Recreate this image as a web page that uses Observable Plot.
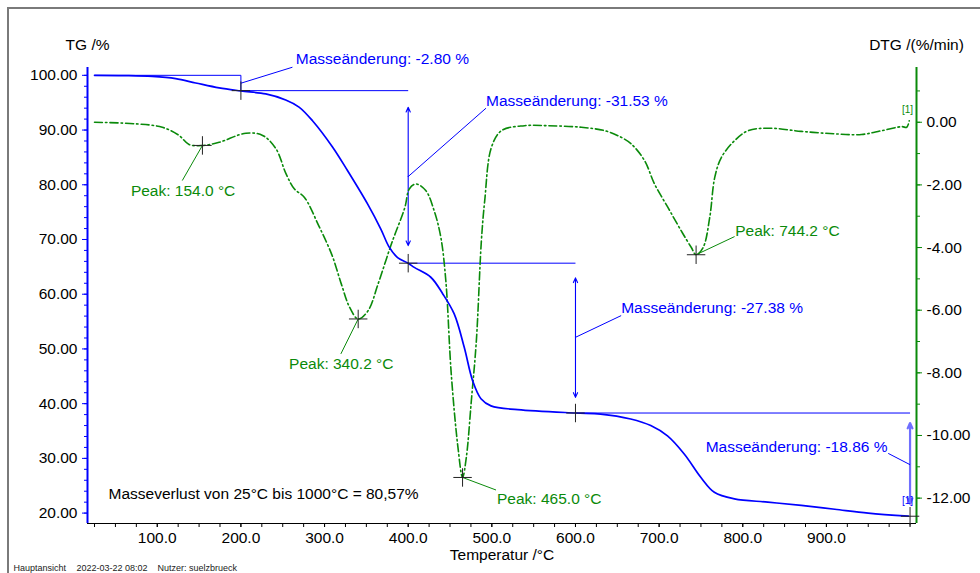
<!DOCTYPE html>
<html><head><meta charset="utf-8">
<script src="https://cdn.jsdelivr.net/npm/d3@7"></script>
<script src="https://cdn.jsdelivr.net/npm/@observablehq/plot@0.6"></script>
<style>
html,body{margin:0;padding:0;background:#fff;overflow:hidden;}
#wrap{position:relative;width:980px;height:573px;overflow:hidden;}
#border{position:absolute;left:7px;top:7px;width:1000px;height:600px;border:2px solid #7a7a7a;box-sizing:border-box;pointer-events:none;}
</style></head><body><div id="wrap"><div id="chart"></div><div id="border"></div></div>
<script>
// ---- TG curve (Temperatur °C, Masse %) ----
const tempTG = [25, 60, 94, 122, 146, 174, 200, 229.7, 253.6, 269.5, 285.6, 309.5, 327.4, 351.4, 367.3, 377.3, 387.3, 400, 407.3, 427, 441.2, 455, 467, 477, 487, 499, 531, 600, 630, 666, 690, 710, 730, 750, 766, 790, 830, 870, 910, 950, 998];
const massTG = [100, 99.95, 99.8, 99.4, 98.6, 97.7, 97.15, 96.6, 95.5, 94.2, 91.7, 86.9, 82.6, 76.5, 71.9, 68.6, 66.7, 65.67, 64.9, 63.1, 60.1, 56.4, 50.3, 44.2, 40.9, 39.6, 38.9, 38.29, 38.1, 37.2, 36.0, 34.1, 30.8, 26.5, 23.8, 22.6, 22.0, 21.4, 20.7, 20.0, 19.43];

// ---- DTG curve (Temperatur °C, %/min) ----
const tempDTG = [25, 74, 106, 126, 138, 154, 174, 206, 226, 242, 254, 264, 276, 293, 309, 320, 330, 340.2, 352, 364, 380, 396, 401.3, 409.3, 421, 431, 439, 445, 451.5, 459.5, 465, 469.5, 475.5, 481.5, 487.5, 491.5, 499.5, 511.5, 539, 567, 607, 635, 654.6, 666.6, 682.5, 694.5, 710.5, 726.5, 738.5, 744.2, 752.6, 760.5, 766.5, 774.5, 790.5, 806.5, 830.5, 870, 910, 942, 966, 990, 996, 999];
const rateDTG = [0, -0.05, -0.16, -0.42, -0.71, -0.74, -0.64, -0.35, -0.42, -0.85, -1.65, -2.13, -2.40, -3.3, -4.25, -5.16, -5.91, -6.28, -6.02, -5.16, -3.88, -2.72, -2.13, -1.97, -2.18, -2.82, -3.67, -5.06, -8.04, -10.38, -11.34, -10.70, -8.89, -6.97, -3.78, -2.50, -0.80, -0.27, -0.11, -0.11, -0.16, -0.27, -0.48, -0.69, -1.22, -1.97, -2.72, -3.47, -4.0, -4.23, -4.0, -3.04, -1.76, -1.12, -0.58, -0.27, -0.19, -0.29, -0.37, -0.39, -0.27, -0.14, -0.16, 0.05];

// ---- ticks ----
const xTicks = [100, 200, 300, 400, 500, 600, 700, 800, 900];
const xMinor = d3.range(25, 1001, 25);
const tgTicks = [20, 30, 40, 50, 60, 70, 80, 90, 100];
const tgMinor = d3.range(20, 101, 2);
const dtgTicks = [-12, -10, -8, -6, -4, -2, 0];
const dtgMinor = d3.range(-12, 2, 1);

// ---- mass steps ----
const stepTemps = [200, 400, 600, 1000];
const stepMass = [97.2, 65.67, 38.29, 19.43];
const stepLabels = ["Masseänderung: -2.80 %", "Masseänderung: -31.53 %", "Masseänderung: -27.38 %", "Masseänderung: -18.86 %"];
const stepArrowTop = [null, 94.17, 62.98, 36.47];
const stepArrowBottom = [null, 68.88, 41.15, 21.72];
const stepLeaderFrom = [98.56, 81.5, 52.12, 28.85];
const stepLeaderTo = [[261.6, 101.48], [493, 93.99], [654.6, 56.09], [973.9, 30.91]];
const stepLabelPos = [[265.6, 102.89, "start"], [493, 95.39, "start"], [654.6, 57.55, "start"], [973, 32.14, "end"]];

// ---- DTG peaks ----
const peakTemps = [154.0, 340.2, 465.0, 744.2];
const peakRates = [-0.74, -6.28, -11.34, -4.23];
const peakLeaderTo = [[129.9, 80.77], [319.5, 49.09], [505, 24.22], [790.2, 70.53]];
const peakLabelPos = [[130.9, 78.94, "middle"], [320, 47.31, "middle"], [506.2, 22.63, "start"], [791, 71.63, "start"]];

const note = "Masseverlust von 25°C bis 1000°C = 80,57%";
const notePos = [41.7, 23.55];
const footer = ["Hauptansicht", "2022-03-22 08:02", "Nutzer: suelzbrueck"];

const blue = "#0000ff", green = "#0a8a0a";
const FS = 15.5;
const xDomain = [16.6, 1007.7];
const tgDomain = [18.10, 101.43];
const dtgDomain = [-12.81, 1.748];
const d2t = d3.scaleLinear().domain(dtgDomain).range(tgDomain);

const tg = tempTG.map((t, i) => ({t, v: massTG[i]}));
const dtg = tempDTG.map((t, i) => ({t, v: d2t(rateDTG[i])}));

const segs = [
  {x1: 25, y1: 100, x2: stepTemps[0], y2: 100},
  {x1: stepTemps[0], y1: 100, x2: stepTemps[0], y2: stepMass[0]},
  {x1: stepTemps[0], y1: stepMass[0], x2: stepTemps[1], y2: stepMass[0]},
  {x1: stepTemps[1], y1: stepMass[1], x2: stepTemps[2], y2: stepMass[1]},
  {x1: stepTemps[2], y1: stepMass[2], x2: stepTemps[3], y2: stepMass[2]}
];
const arrows = [];
for (let i = 1; i < 4; i++) {
  const mid = (stepArrowTop[i] + stepArrowBottom[i]) / 2;
  arrows.push({t: stepTemps[i], y1: mid, y2: stepArrowTop[i], last: i === 3});
  arrows.push({t: stepTemps[i], y1: mid, y2: stepArrowBottom[i], last: i === 3});
}
const stepLeaders = stepTemps.map((t, i) => ({x1: t, y1: stepLeaderFrom[i], x2: stepLeaderTo[i][0], y2: stepLeaderTo[i][1]}));
const stepText = stepLabels.map((s, i) => ({s, x: stepLabelPos[i][0], y: stepLabelPos[i][1], a: stepLabelPos[i][2]}));
const peakLeaders = peakTemps.map((t, i) => ({x1: t, y1: d2t(peakRates[i]), x2: peakLeaderTo[i][0], y2: peakLeaderTo[i][1]}));
const peakText = peakTemps.map((t, i) => ({s: `Peak: ${t.toFixed(1)} °C`, x: peakLabelPos[i][0], y: peakLabelPos[i][1], a: peakLabelPos[i][2]}));
const crosses = stepTemps.map((t, i) => ({t, v: stepMass[i]})).concat(peakTemps.map((t, i) => ({t, v: d2t(peakRates[i])})));

const fmtD = v => { const x = Math.round(d2t.invert(v) * 100) / 100; return (Math.abs(x) < 1e-9 ? 0 : x).toFixed(2); };

const chart = Plot.plot({
  width: 980, height: 573,
  marginLeft: 87, marginRight: 64, marginTop: 67, marginBottom: 50,
  style: {fontFamily: "'Liberation Sans', Arial, sans-serif", fontSize: FS + "px", background: "white", color: "black"},
  x: {domain: xDomain, label: null},
  y: {domain: tgDomain, label: null},
  marks: [
    // axes
    Plot.axisX({ticks: xMinor, tickSize: 4, tickFormat: () => "", label: null, stroke: "black"}),
    Plot.axisX({ticks: xTicks, tickSize: 4, tickPadding: 4, tickFormat: d => d.toFixed(1), label: null, stroke: "black", fill: "black", fontSize: FS}),
    Plot.axisY({ticks: tgMinor, tickSize: 3, tickFormat: () => "", label: null, stroke: blue}),
    Plot.axisY({ticks: tgTicks, tickSize: 5, tickPadding: 5, tickFormat: d => d.toFixed(2), label: null, stroke: blue, fill: "black", fontSize: FS}),
    Plot.axisY({anchor: "right", ticks: dtgMinor.map(d2t), tickSize: 3, tickFormat: () => "", label: null, stroke: green}),
    Plot.axisY({anchor: "right", ticks: dtgTicks.map(d2t), tickSize: 5, tickPadding: 5, tickFormat: fmtD, label: null, stroke: green, fill: "black", fontSize: FS}),
    Plot.ruleY([tgDomain[0]], {stroke: "black", strokeWidth: 1.2}),
    Plot.ruleX([xDomain[0]], {stroke: blue, strokeWidth: 2}),
    Plot.ruleX([xDomain[1]], {stroke: green, strokeWidth: 2}),
    // axis titles
    Plot.text(["TG /%"], {frameAnchor: "top-left", textAnchor: "middle", lineAnchor: "top", dy: -29, fontSize: FS}),
    Plot.text(["DTG /(%/min)"], {frameAnchor: "top-right", textAnchor: "middle", lineAnchor: "top", dy: -29, fontSize: FS}),
    Plot.text(["Temperatur /°C"], {frameAnchor: "bottom", textAnchor: "middle", lineAnchor: "top", dy: 25.5, fontSize: FS}),
    Plot.text([footer[0]], {frameAnchor: "bottom-left", textAnchor: "start", lineAnchor: "top", dx: -74, dy: 41, fontSize: 9, fill: "#222"}),
    Plot.text([footer[1]], {frameAnchor: "bottom-left", textAnchor: "start", lineAnchor: "top", dx: -11, dy: 41, fontSize: 9, fill: "#222"}),
    Plot.text([footer[2]], {frameAnchor: "bottom-left", textAnchor: "start", lineAnchor: "top", dx: 70, dy: 41, fontSize: 9, fill: "#222"}),
    // step annotations
    Plot.link(segs, {x1: "x1", y1: "y1", x2: "x2", y2: "y2", stroke: blue, strokeWidth: 1}),
    Plot.arrow(arrows.filter(d => !d.last), {x1: "t", y1: "y1", x2: "t", y2: "y2", stroke: blue, strokeWidth: 1.1, headLength: 7, headAngle: 48, bend: 0}),
    Plot.arrow(arrows.filter(d => d.last), {x1: "t", y1: "y1", x2: "t", y2: "y2", stroke: "#6f6fff", strokeWidth: 2.2, headLength: 4, headAngle: 48, bend: 0}),
    Plot.link(stepLeaders, {x1: "x1", y1: "y1", x2: "x2", y2: "y2", stroke: blue, strokeWidth: 1}),
    Plot.link(peakLeaders, {x1: "x1", y1: "y1", x2: "x2", y2: "y2", stroke: green, strokeWidth: 1}),
    // curves
    Plot.line(dtg, {x: "t", y: "v", stroke: green, strokeWidth: 1.6, strokeDasharray: "8,3,1.5,3", curve: "catmull-rom"}),
    Plot.line(tg, {x: "t", y: "v", stroke: blue, strokeWidth: 1.7, curve: "catmull-rom"}),
    Plot.dot(crosses, {x: "t", y: "v", symbol: "plus", r: 6, stroke: "#222", strokeWidth: 1}),
    // labels
    Plot.text(stepText.filter(d => d.a === "start"), {x: "x", y: "y", text: "s", textAnchor: "start", fill: blue, fontSize: FS, lineAnchor: "middle"}),
    Plot.text(stepText.filter(d => d.a === "end"), {x: "x", y: "y", text: "s", textAnchor: "end", fill: blue, fontSize: FS, lineAnchor: "middle"}),
    Plot.text(peakText.filter(d => d.a === "middle"), {x: "x", y: "y", text: "s", textAnchor: "middle", fill: green, fontSize: FS, lineAnchor: "middle"}),
    Plot.text(peakText.filter(d => d.a === "start"), {x: "x", y: "y", text: "s", textAnchor: "start", fill: green, fontSize: FS, lineAnchor: "middle"}),
    Plot.text([note], {x: notePos[0], y: notePos[1], textAnchor: "start", lineAnchor: "middle", fill: "black", fontSize: FS}),
    Plot.text(["[1]"], {x: 997, y: 93.75, textAnchor: "middle", lineAnchor: "middle", fill: green, fontSize: 10}),
    Plot.text(["[1]"], {x: 997, y: 22.27, textAnchor: "middle", lineAnchor: "middle", fill: blue, fontSize: 10})
  ]
});
document.getElementById("chart").appendChild(chart);
</script></body></html>
